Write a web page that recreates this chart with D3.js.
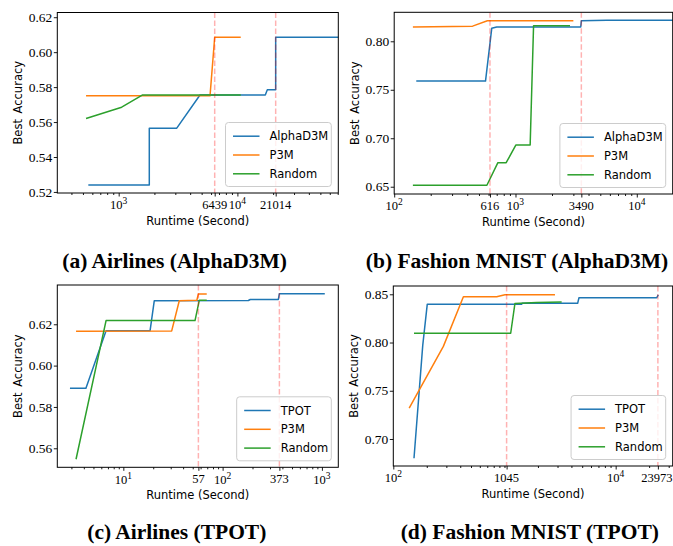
<!DOCTYPE html>
<html><head><meta charset="utf-8">
<script src="https://cdn.jsdelivr.net/npm/d3@7/dist/d3.min.js"></script>
<style>body{margin:0;background:#fff}svg{display:block}</style>
</head><body>
<svg id="chart" width="673" height="546"></svg>
<script>
// ---------------- data (runtime in seconds, best accuracy) ----------------
// (a) Airlines (AlphaD3M)
const airlinesAD_AlphaD3M = [[555,0.524],[1811,0.524],[1811,0.5565],[3085,0.5565],[4842,0.5755],[17180,0.5755],[17870,0.5785],[21014,0.5785],[21014,0.6085],[75000,0.6085]];
const airlinesAD_P3M      = [[531,0.575],[5880,0.575],[6439,0.6085],[10670,0.6085]];
const airlinesAD_Random   = [[531,0.562],[1060,0.5685],[1592,0.5755],[10670,0.5755]];
const airlinesAD_ticksX   = [1000,6439,10000,21014];
const airlinesAD_ticksY   = [0.52,0.54,0.56,0.58,0.60,0.62];
const airlinesAD_marks    = [6439,21014];

// (b) Fashion MNIST (AlphaD3M)
const fashionAD_AlphaD3M = [[152,0.759],[566,0.759],[637,0.8134],[700,0.8148],[3451,0.8148],[3490,0.8212],[5650,0.8218],[25000,0.8218]];
const fashionAD_P3M      = [[142.6,0.8147],[443,0.8156],[586,0.8212],[2999,0.8212]];
const fashionAD_Random   = [[142.6,0.6515],[581,0.6515],[716,0.6748],[838,0.6748],[1006,0.693],[1321,0.693],[1409,0.816],[2813,0.816]];
const fashionAD_ticksX   = [100,616,1000,3490,10000];
const fashionAD_ticksY   = [0.65,0.70,0.75,0.80];
const fashionAD_marks    = [616,3490];

// (c) Airlines (TPOT)
const airlinesTP_TPOT   = [[2.9,0.589],[4.2,0.589],[6.7,0.6169],[18.6,0.6169],[20.5,0.6314],[181.6,0.6315],[190,0.632],[364,0.632],[373,0.6348],[1069,0.6348]];
const airlinesTP_P3M    = [[3.34,0.6166],[30.7,0.6168],[36.6,0.6314],[55.0,0.6316],[57,0.6347],[69.2,0.6347]];
const airlinesTP_Random = [[3.34,0.5547],[6.7,0.6218],[52.7,0.6218],[58.2,0.6316],[69.2,0.6316]];
const airlinesTP_ticksX = [10,57,100,373,1000];
const airlinesTP_ticksY = [0.56,0.58,0.60,0.62];
const airlinesTP_marks  = [57,373];

// (d) Fashion MNIST (TPOT)
const fashionTP_TPOT   = [[153.5,0.68],[184,0.797],[202,0.8396],[1429,0.8396],[1440,0.8406],[4550,0.8406],[4677,0.8464],[23390,0.8464],[24170,0.8495]];
const fashionTP_P3M    = [[139,0.732],[282,0.796],[427,0.8475],[851,0.8475],[1010,0.8496],[2845,0.8496]];
const fashionTP_Random = [[153.5,0.8096],[1137,0.8096],[1242,0.8405],[1950,0.8416],[3266,0.8421]];
const fashionTP_ticksX = [100,1045,10000,23973];
const fashionTP_ticksY = [0.70,0.75,0.80,0.85];
const fashionTP_marks  = [1045,23973];

const captions = ["(a) Airlines (AlphaD3M)","(b) Fashion MNIST (AlphaD3M)","(c) Airlines (TPOT)","(d) Fashion MNIST (TPOT)"];

// ---------------- drawing ----------------
const COLORS = ["#1f77b4","#ff7f0e","#2ca02c"];
const svg = d3.select("#chart");
const TICKFONT = "'Liberation Serif', 'DejaVu Serif', serif";
const SANS = "'DejaVu Sans', sans-serif";
const TICKSIZE = 12.5;

function drawPanel(cfg, idx) {
  const g = svg.append("g");
  const x = d3.scaleLog().domain(cfg.xDomain).range([cfg.left, cfg.right]);
  const y = d3.scaleLinear().domain(cfg.yDomain).range([cfg.bottom, cfg.top]);
  const clipId = "clip" + idx;
  svg.append("clipPath").attr("id", clipId).append("rect")
    .attr("x", cfg.left).attr("y", cfg.top)
    .attr("width", cfg.right - cfg.left).attr("height", cfg.bottom - cfg.top);

  const line = d3.line().x(d => x(d[0])).y(d => y(d[1]));
  const plot = g.append("g").attr("clip-path", `url(#${clipId})`);
  cfg.series.forEach((s, i) => {
    plot.append("path").datum(s.data).attr("d", line)
      .attr("fill", "none").attr("stroke", COLORS[i]).attr("stroke-width", 1.5)
      .attr("stroke-linejoin", "round");
  });
  cfg.marks.forEach(m => {
    plot.append("line").attr("x1", x(m)).attr("x2", x(m))
      .attr("y1", cfg.top).attr("y2", cfg.bottom)
      .attr("stroke", "red").attr("stroke-opacity", 0.3)
      .attr("stroke-width", 1.5).attr("stroke-dasharray", "5.5,2.5");
  });

  // spines
  g.append("rect").attr("x", cfg.left).attr("y", cfg.top)
    .attr("width", cfg.right - cfg.left).attr("height", cfg.bottom - cfg.top)
    .attr("fill", "none").attr("stroke", "#000").attr("stroke-width", 1);

  // x axis: major + minor ticks
  const [lo, hi] = cfg.xDomain;
  const minor = [];
  for (let k = Math.floor(Math.log10(lo)); k <= Math.ceil(Math.log10(hi)); k++) {
    for (let m = 1; m <= 9; m++) {
      const v = m * Math.pow(10, k);
      if (v >= lo && v <= hi && !cfg.ticksX.includes(v)) minor.push(v);
    }
  }
  const xAxisMinor = d3.axisBottom(x).tickValues(minor).tickSize(2).tickFormat("");
  const gxm = g.append("g").attr("transform", `translate(0,${cfg.bottom})`).call(xAxisMinor);
  gxm.select(".domain").remove();
  const xAxis = d3.axisBottom(x).tickValues(cfg.ticksX).tickSize(3.5).tickFormat("");
  const gx = g.append("g").attr("transform", `translate(0,${cfg.bottom})`).call(xAxis);
  gx.select(".domain").remove();
  cfg.ticksX.forEach(v => {
    const t = g.append("text").attr("x", x(v)).attr("y", cfg.bottom + 15.5)
      .attr("text-anchor", "middle").attr("font-family", TICKFONT).attr("font-size", TICKSIZE).attr("fill", "#000");
    const lg = Math.log10(v);
    if (Math.abs(lg - Math.round(lg)) < 1e-9) {
      t.attr("y", cfg.bottom + 16.2);
      t.append("tspan").text("10");
      t.append("tspan").attr("font-size", 9.5).attr("dy", -5).text(String(Math.round(lg)));
    } else {
      t.text(String(v));
    }
    // keep labels inside the picture
    const bb = t.node().getBBox();
    if (bb.x + bb.width > 672.5) t.attr("x", x(v) - (bb.x + bb.width - 672.5));
  });

  // y axis
  const yAxis = d3.axisLeft(y).tickValues(cfg.ticksY).tickSize(3.5).tickFormat("");
  const gy = g.append("g").attr("transform", `translate(${cfg.left},0)`).call(yAxis);
  gy.select(".domain").remove();
  cfg.ticksY.forEach(v => {
    g.append("text").attr("x", cfg.left - 5).attr("y", y(v)).attr("dy", "0.35em")
      .attr("text-anchor", "end").attr("font-family", TICKFONT).attr("font-size", 13.5)
      .attr("fill", "#000").text(d3.format(".2f")(v));
  });
  g.selectAll(".tick line").attr("stroke", "#000").attr("stroke-width", 0.9);

  // axis labels
  g.append("text").attr("x", (cfg.left + cfg.right) / 2).attr("y", cfg.bottom + 31.5)
    .attr("text-anchor", "middle").attr("font-family", SANS).attr("font-size", 11.5)
    .text("Runtime (Second)");
  const ymid = (cfg.top + cfg.bottom) / 2;
  g.append("text").attr("transform", `translate(${cfg.left - 35},${ymid}) rotate(-90)`)
    .attr("text-anchor", "middle").attr("font-family", SANS).attr("font-size", 11.5)
    .attr("word-spacing", 2).text("Best Accuracy");

  // legend (lower right)
  const leg = g.append("g");
  const texts = cfg.series.map(s => s.name);
  const tmp = leg.append("text").attr("font-family", SANS).attr("font-size", 11.5);
  let maxW = 0;
  texts.forEach(t => { tmp.text(t); maxW = Math.max(maxW, tmp.node().getComputedTextLength()); });
  tmp.remove();
  const w = maxW + 47, h = 64;
  const lx = cfg.right - 7 - w, ly = cfg.bottom - 6.5 - h;
  leg.append("rect").attr("x", lx).attr("y", ly).attr("width", w).attr("height", h)
    .attr("rx", 3).attr("fill", "#fff").attr("fill-opacity", 0.8)
    .attr("stroke", "#cccccc").attr("stroke-width", 1);
  texts.forEach((t, i) => {
    const yy = ly + 13.7 + i * 18.8;
    leg.append("line").attr("x1", lx + 7.5).attr("x2", lx + 34).attr("y1", yy).attr("y2", yy)
      .attr("stroke", COLORS[i]).attr("stroke-width", 1.5);
    leg.append("text").attr("x", lx + 44).attr("y", yy).attr("dy", "0.36em")
      .attr("font-family", SANS).attr("font-size", 11.5).text(t);
  });
}

const panels = [
  {left: 57.3, right: 338.3, top: 12.5, bottom: 193,
   xDomain: [Math.pow(10, 2.483), Math.pow(10, 4.85)], yDomain: [0.5194, 0.6227],
   ticksX: airlinesAD_ticksX, ticksY: airlinesAD_ticksY, marks: airlinesAD_marks,
   series: [{name: "AlphaD3M", data: airlinesAD_AlphaD3M}, {name: "P3M", data: airlinesAD_P3M}, {name: "Random", data: airlinesAD_Random}]},
  {left: 394.2, right: 672.7, top: 12.3, bottom: 194,
   xDomain: [100, Math.pow(10, 4.296)], yDomain: [0.6425, 0.8299],
   ticksX: fashionAD_ticksX, ticksY: fashionAD_ticksY, marks: fashionAD_marks,
   series: [{name: "AlphaD3M", data: fashionAD_AlphaD3M}, {name: "P3M", data: fashionAD_P3M}, {name: "Random", data: fashionAD_Random}]},
  {left: 57.3, right: 338.3, top: 285, bottom: 467.3,
   xDomain: [Math.pow(10, 0.335), Math.pow(10, 3.165)], yDomain: [0.5508, 0.6390],
   ticksX: airlinesTP_ticksX, ticksY: airlinesTP_ticksY, marks: airlinesTP_marks,
   series: [{name: "TPOT", data: airlinesTP_TPOT}, {name: "P3M", data: airlinesTP_P3M}, {name: "Random", data: airlinesTP_Random}]},
  {left: 393.3, right: 672.7, top: 286, bottom: 466,
   xDomain: [100, Math.pow(10, 4.513)], yDomain: [0.672, 0.8586],
   ticksX: fashionTP_ticksX, ticksY: fashionTP_ticksY, marks: fashionTP_marks,
   series: [{name: "TPOT", data: fashionTP_TPOT}, {name: "P3M", data: fashionTP_P3M}, {name: "Random", data: fashionTP_Random}]}
];
panels.forEach(drawPanel);

// captions
const capPos = [[174.6, 268], [517, 268], [176.8, 539], [529.8, 539]];
captions.forEach((c, i) => {
  svg.append("text").attr("x", capPos[i][0]).attr("y", capPos[i][1])
    .attr("text-anchor", "middle").attr("font-family", "'Liberation Serif', 'DejaVu Serif', serif")
    .attr("font-weight", "bold").attr("font-size", 21.5).text(c);
});
</script>
</body></html>
